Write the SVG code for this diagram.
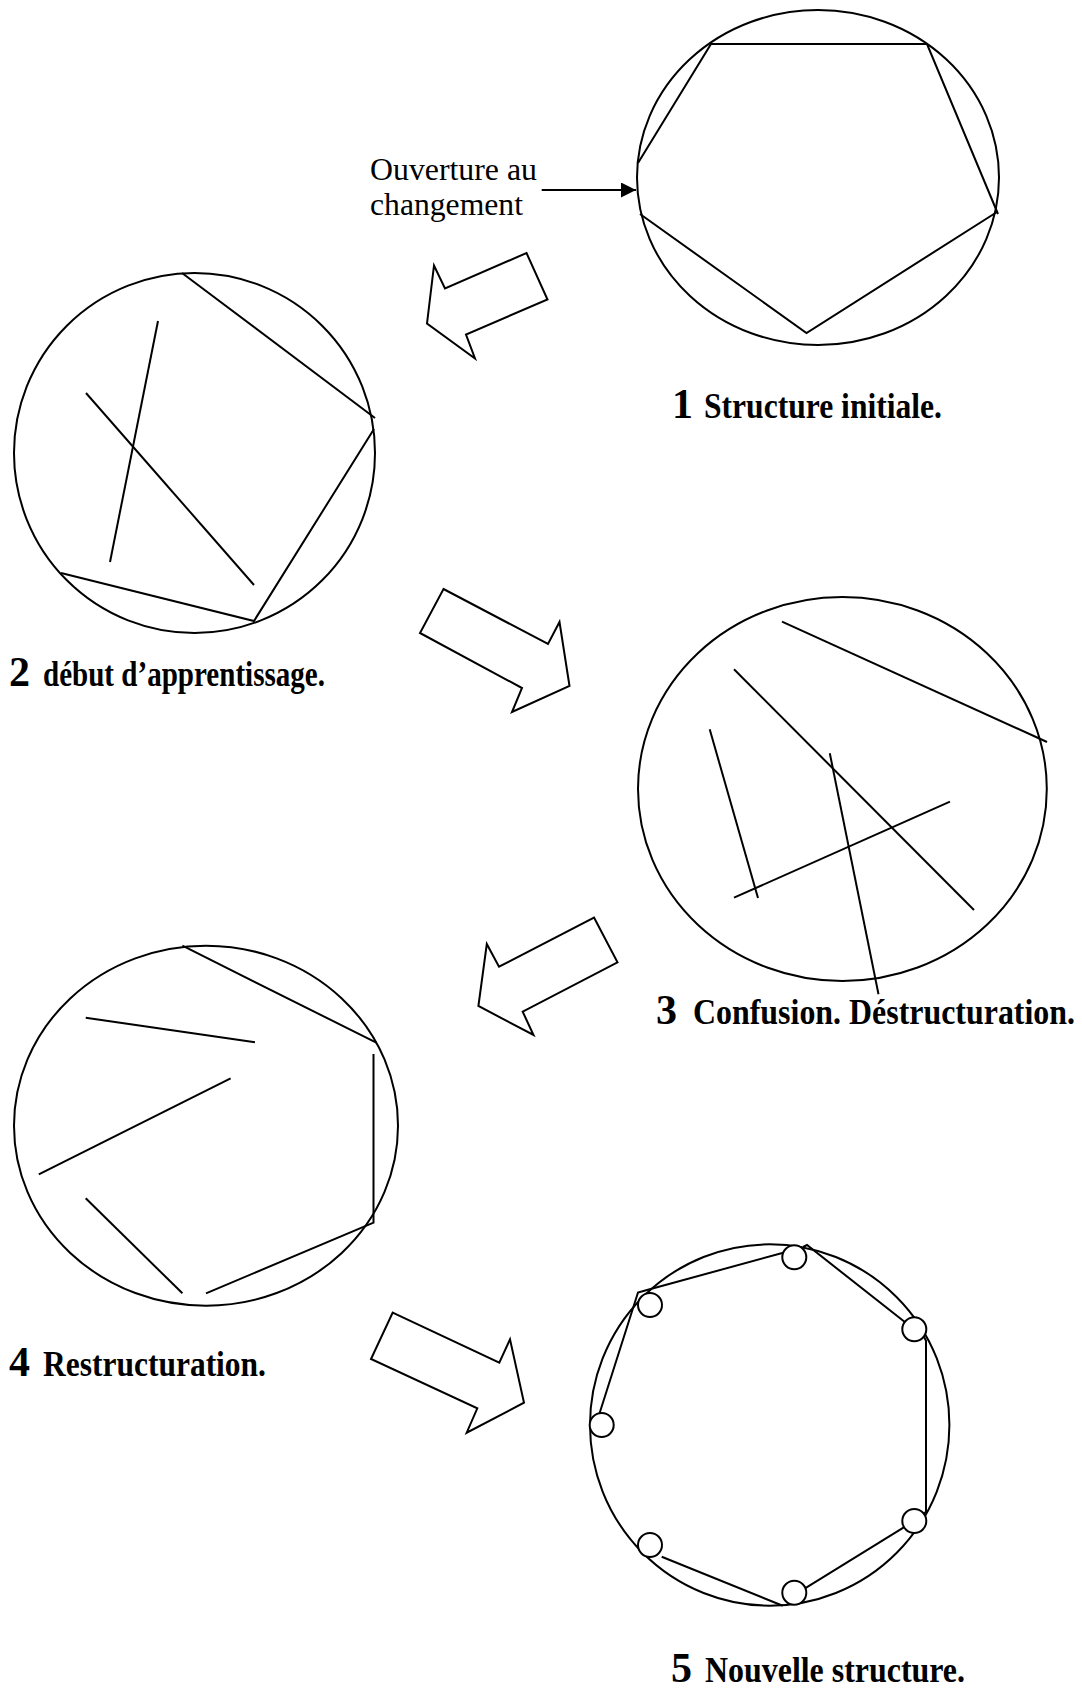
<svg xmlns="http://www.w3.org/2000/svg" width="1082" height="1689" viewBox="0 0 1082 1689">
<style>
.ln{fill:none;stroke:#000;stroke-width:2;stroke-linejoin:miter}
.bg{fill:none;stroke:#000;stroke-width:2}
.dot{fill:#fff;stroke:#000;stroke-width:2}
.blk{fill:#fff;stroke:#000;stroke-width:2;stroke-linejoin:miter}
.num{font-family:"Liberation Serif","Times New Roman",serif;font-weight:bold;font-size:42px;fill:#000}
.lab{font-family:"Liberation Serif","Times New Roman",serif;font-weight:bold;font-size:35px;fill:#000}
.note{font-family:"Liberation Serif","Times New Roman",serif;font-size:31px;fill:#000}
</style>
<defs>
<marker id="ah" viewBox="0 0 10 10" refX="10" refY="5" markerWidth="7.5" markerHeight="7.5" markerUnits="strokeWidth" orient="auto">
<path d="M0,0 L10,5 L0,10 z" fill="#000"/>
</marker>
</defs>
<rect width="1082" height="1689" fill="#fff"/>

<g id="node1">
<ellipse class="bg" cx="818" cy="177.5" rx="181" ry="167.5"/>
<polyline class="ln" points="638,163 711,44 927,44 998,214"/>
<polyline class="ln" points="997,212 806.5,333 640,214"/>
<text class="num" x="672" y="418">1</text>
<text class="lab" x="704" y="418" textLength="238" lengthAdjust="spacingAndGlyphs">Structure initiale.</text>
</g>

<g id="note-ouverture">
<text class="note" x="370" y="180" textLength="167" lengthAdjust="spacingAndGlyphs">Ouverture au</text>
<text class="note" x="370" y="215" textLength="153" lengthAdjust="spacingAndGlyphs">changement</text>
</g>

<g id="node2">
<ellipse class="bg" cx="194.5" cy="453" rx="180.5" ry="180"/>
<line class="ln" x1="182" y1="273" x2="375" y2="418"/>
<polyline class="ln" points="61,573 254,621 374,429"/>
<line class="ln" x1="158" y1="321" x2="110" y2="562"/>
<line class="ln" x1="86" y1="393" x2="254" y2="585"/>
<text class="num" x="9" y="686">2</text>
<text class="lab" x="43" y="686" textLength="282" lengthAdjust="spacingAndGlyphs">début d’apprentissage.</text>
</g>

<g id="node3">
<ellipse class="bg" cx="842.4" cy="789" rx="204.4" ry="192"/>
<line class="ln" x1="782" y1="621.7" x2="1047" y2="742"/>
<line class="ln" x1="734" y1="669.3" x2="974" y2="910"/>
<line class="ln" x1="709.7" y1="729.3" x2="758" y2="898"/>
<line class="ln" x1="734" y1="897.7" x2="950" y2="801.7"/>
<line class="ln" x1="829.8" y1="753.3" x2="878.5" y2="994.3"/>
<text class="num" x="656" y="1024">3</text>
<text class="lab" x="693" y="1024" textLength="382" lengthAdjust="spacingAndGlyphs">Confusion. Déstructuration.</text>
</g>

<g id="node4">
<ellipse class="bg" cx="206" cy="1125.7" rx="192" ry="180"/>
<line class="ln" x1="182.4" y1="945.7" x2="376.3" y2="1042.7"/>
<polyline class="ln" points="373.5,1054 373.5,1222.7 206,1293.3"/>
<line class="ln" x1="85.7" y1="1017.7" x2="255" y2="1042.3"/>
<line class="ln" x1="230.6" y1="1078.3" x2="38.8" y2="1174.3"/>
<line class="ln" x1="85.7" y1="1198.3" x2="182.4" y2="1293.3"/>
<text class="num" x="9" y="1376">4</text>
<text class="lab" x="43" y="1376" textLength="223" lengthAdjust="spacingAndGlyphs">Restructuration.</text>
</g>

<g id="node5">
<ellipse class="bg" cx="769.7" cy="1425" rx="179.7" ry="180.7"/>
<polyline class="ln" points="599,1415 638,1292.5 647,1290 786,1252"/>
<polyline class="ln" points="803,1247 807,1245 904.5,1321.7"/>
<polyline class="ln" points="923,1335 926,1340.7 926,1511.7 922.7,1515"/>
<line class="ln" x1="905" y1="1526.7" x2="805" y2="1588.3"/>
<line class="ln" x1="661.7" y1="1556.7" x2="782.7" y2="1605.7"/>
<circle class="dot" cx="794.3" cy="1257.3" r="12"/>
<circle class="dot" cx="650" cy="1305" r="12"/>
<circle class="dot" cx="914.3" cy="1329.3" r="12"/>
<circle class="dot" cx="601.7" cy="1425" r="12"/>
<circle class="dot" cx="914.3" cy="1521" r="12"/>
<circle class="dot" cx="650" cy="1545" r="12"/>
<circle class="dot" cx="794.3" cy="1592.7" r="12"/>
<text class="num" x="671" y="1682">5</text>
<text class="lab" x="705" y="1682" textLength="260" lengthAdjust="spacingAndGlyphs">Nouvelle structure.</text>
</g>

<g id="connectors">
<line class="ln" x1="541.7" y1="190" x2="636" y2="190" marker-end="url(#ah)"/>
<polygon class="blk" points="526.5,253 547.5,299.5 466,334.5 475,358.5 427,323.5 434,265.5 445,288.5"/>
<polygon class="blk" points="443.5,589 548,644 559.5,622 569.5,686 512,712 522,688 420,633"/>
<polygon class="blk" points="594,917.5 617.5,962.3 522.7,1011.7 533.5,1035 478.4,1006 486.8,944 499,966.7"/>
<polygon class="blk" points="392.7,1312.7 499.3,1362.7 510,1339.3 524,1402.7 466.7,1432.7 477.3,1408.3 371,1359"/>
</g>
</svg>
